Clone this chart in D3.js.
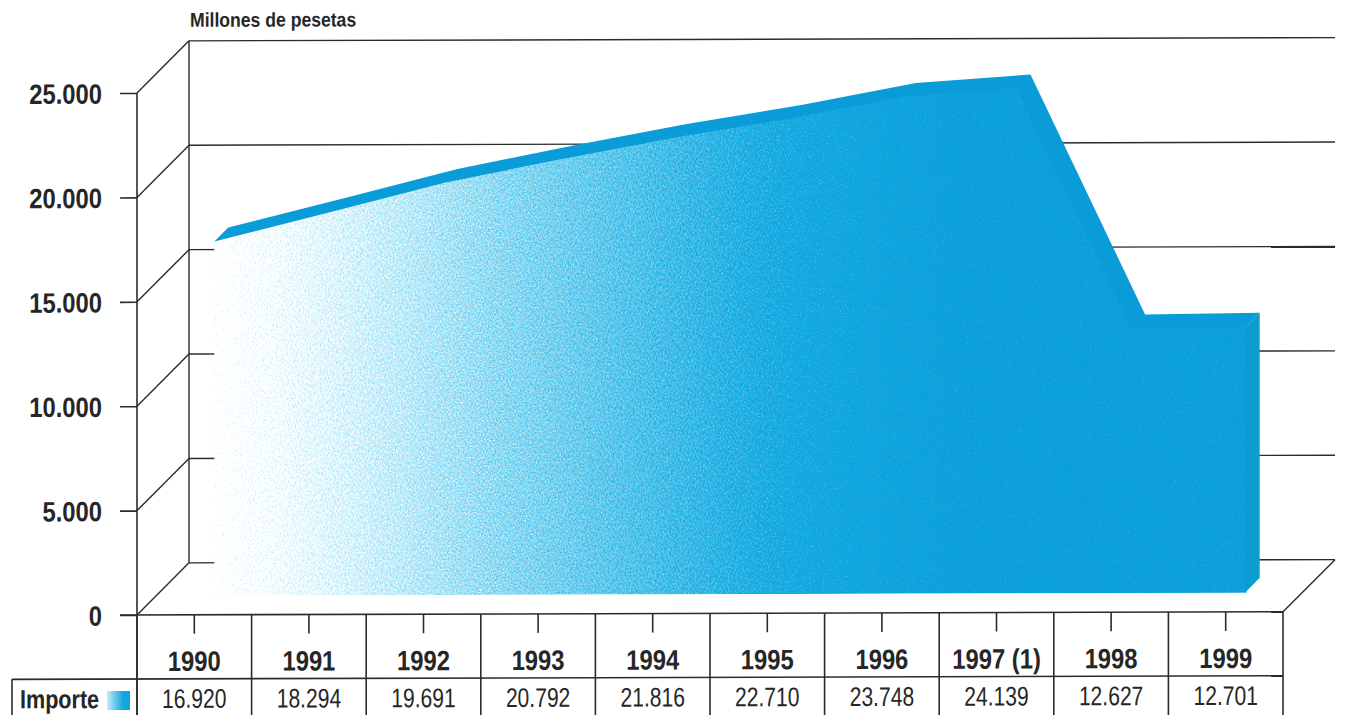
<!DOCTYPE html>
<html><head><meta charset="utf-8">
<script src="https://cdnjs.cloudflare.com/ajax/libs/d3/7.8.5/d3.min.js"></script>
<style>html,body{margin:0;padding:0;background:#fff;overflow:hidden}svg{display:block}
text{font-family:"Liberation Sans",Arial,sans-serif;fill:#262626}</style></head>
<body><svg id="c" width="1345" height="715"></svg>
<script>
const years=["1990","1991","1992","1993","1994","1995","1996","1997 (1)","1998","1999"];
const importe=[16920,18294,19691,20792,21816,22710,23748,24139,12627,12701];
const yTicks=[0,5000,10000,15000,20000,25000];
const unitLabel="Millones de pesetas";
const rowLabel="Importe";

const ink="#2b2b2b", solid="#0b9fdb";
const svg=d3.select("#c");
const fmt=d3.formatLocale({decimal:",",thousands:".",grouping:[3],currency:["",""]}).format(",d");
const x=d3.scaleBand().domain(years).range([137,1283]);
const y=d3.scaleLinear().domain([0,25000]).range([615,93]);
const wall=52, fd=20;
const cx=d=>x(d)+x.bandwidth()/2;
const g=svg.append("g").attr("transform","matrix(1,-0.0028,0,1,0,0.38)");

const defs=svg.append("defs");
const hue=defs.append("linearGradient").attr("id","hue").attr("gradientUnits","userSpaceOnUse")
  .attr("x1",214).attr("x2",1000).attr("y1",0).attr("y2",0);
[[0,"#30c6ee"],[0.5,"#18b0e4"],[1,solid]].forEach(s=>hue.append("stop").attr("offset",s[0]).attr("stop-color",s[1]));
const dens=defs.append("linearGradient").attr("id","dens").attr("gradientUnits","userSpaceOnUse")
  .attr("x1",214).attr("x2",1000).attr("y1",0).attr("y2",0);
[[0,"#080808"],[0.06,"#1e1e1e"],[0.11,"#2e2e2e"],[0.24,"#585858"],[0.36,"#808080"],[0.49,"#a4a4a4"],[0.62,"#c8c8c8"],[0.75,"#eeeeee"],[0.85,"#fff"],[1,"#fff"]]
 .forEach(s=>dens.append("stop").attr("offset",s[0]).attr("stop-color",s[1]));
const grain=defs.append("filter").attr("id","grain").attr("x",-0.02).attr("y",-0.02).attr("width",1.04).attr("height",1.04)
  .attr("color-interpolation-filters","sRGB");
grain.append("feTurbulence").attr("type","fractalNoise").attr("baseFrequency",0.6).attr("numOctaves",2).attr("seed",7).attr("result","n");
grain.append("feColorMatrix").attr("in","n").attr("type","matrix")
  .attr("values","1 0 0 0 0  1 0 0 0 0  1 0 0 0 0  0 0 0 0 1").attr("result","ng");
grain.append("feComposite").attr("in","SourceGraphic").attr("in2","ng").attr("operator","arithmetic")
  .attr("k1",0).attr("k2",1.3).attr("k3",1).attr("k4",-0.65).attr("result","r");
grain.append("feComposite").attr("in","r").attr("in2","SourceAlpha").attr("operator","in");

const grid=g.append("g").attr("stroke",ink).attr("stroke-width",1.4).attr("fill","none");
grid.selectAll("line.h").data(yTicks).join(e=>e.append("line").attr("class","h"))
  .attr("x1",137+wall).attr("x2",1283+wall).attr("y1",d=>y(d)-wall).attr("y2",d=>y(d)-wall);
grid.selectAll("line.d").data(yTicks).join(e=>e.append("line").attr("class","d"))
  .attr("x1",137).attr("x2",137+wall).attr("y1",d=>y(d)).attr("y2",d=>y(d)-wall);
grid.append("line").attr("x1",137+wall).attr("x2",137+wall).attr("y1",y(25000)-wall).attr("y2",y(0)-wall);
grid.append("line").attr("x1",1283).attr("x2",1283+wall).attr("y1",y(0)).attr("y2",y(0)-wall);

// 3D area
const base=595, topY=d3.scaleLinear().domain([0,25000]).range([595,595-522]);
const fx=d=>cx(d)+fd;
const shift=14;
const area=d3.area().x(d=>fx(d)).y0(base).y1(d=>topY(importe[years.indexOf(d)]));
const pathOf=d3.line();
const front=years.map((d,i)=>[fx(d),topY(importe[i])]), back=front.map(p=>[p[0]+shift,p[1]-shift]);
g.append("path").attr("d",area(years)).attr("fill","#fff");
const mask=defs.append("mask").attr("id","stipple").attr("maskUnits","userSpaceOnUse")
  .attr("x",0).attr("y",0).attr("width",1345).attr("height",715);
mask.append("path").attr("d",area(years)).attr("fill","url(#dens)").attr("stroke","url(#dens)").attr("stroke-width",3).attr("filter","url(#grain)");
g.append("path").attr("d",area(years)).attr("fill","url(#hue)").attr("stroke","url(#hue)").attr("stroke-width",1.5).attr("mask","url(#stipple)");
g.append("path").attr("d",pathOf(front.concat(back.slice().reverse()))+"Z").attr("fill","#0a9cd8");
const last=front[front.length-1];
g.append("path").attr("d",pathOf([[last[0],base],[last[0]+shift,base-shift],[last[0]+shift,last[1]-shift],last])+"Z").attr("fill","#0c9cd0");

// front axis lines and table
const fr=g.append("g").attr("stroke",ink).attr("stroke-width",1.6);
fr.append("line").attr("x1",137).attr("x2",137).attr("y1",y(25000)).attr("y2",722);
fr.append("line").attr("x1",1283).attr("x2",1283).attr("y1",y(0)).attr("y2",722);
fr.selectAll("line.c").data(years).join(e=>e.append("line").attr("class","c")).attr("x1",d=>x(d)).attr("x2",d=>x(d)).attr("y1",y(0)).attr("y2",722);
fr.append("line").attr("x1",12).attr("x2",1283).attr("y1",679).attr("y2",679);
fr.append("line").attr("x1",12).attr("x2",12).attr("y1",679).attr("y2",722);

// y axis
const ya=g.append("g").attr("transform","translate(137,0)").call(d3.axisLeft(y).tickValues(yTicks).tickFormat(fmt).tickSize(17).tickPadding(18));
ya.select(".domain").remove();
ya.selectAll("line").attr("stroke",ink).attr("stroke-width",1.6);
ya.selectAll("text").attr("font-size",28).attr("font-weight","bold").attr("dy","0.36em")
  .attr("transform","scale(0.85,1)").attr("x",-35/0.85).style("fill","#262626");

// x axis
const xa=g.append("g").attr("transform",`translate(0,${y(0)})`).call(d3.axisBottom(x).tickSize(19).tickPadding(0));
xa.select(".domain").attr("stroke",ink).attr("stroke-width",1.6).attr("d","M120,0H1283");
xa.selectAll("line").attr("stroke",ink).attr("stroke-width",1.6);
xa.selectAll("text").remove();
const narrow=(sel,sx)=>sel.attr("transform",function(){const e=d3.select(this);return `translate(${e.attr("data-x")},${e.attr("data-y")}) scale(${sx},1)`;});
g.append("g").selectAll("text").data(years).join("text").attr("text-anchor","middle")
  .attr("data-x",d=>cx(d)).attr("data-y",671).attr("font-size",28).attr("font-weight","bold").text(d=>d).call(narrow,0.85);
g.append("g").selectAll("text").data(importe).join("text").attr("text-anchor","middle")
  .attr("data-x",(d,i)=>cx(years[i])).attr("data-y",708).attr("font-size",27).text(d=>fmt(d)).call(narrow,0.78);

// row label and swatch
g.append("text").attr("data-x",20).attr("data-y",708).attr("font-size",26).attr("font-weight","bold").text(rowLabel).call(narrow,0.83);
defs.append("linearGradient").attr("id","sw").call(s=>{s.append("stop").attr("offset",0).attr("stop-color","#c4ecf9");s.append("stop").attr("offset",0.7).attr("stop-color","#12a6de");});
g.append("rect").attr("x",107).attr("y",691).attr("width",23).attr("height",19).attr("fill","url(#sw)");

// unit label
g.append("text").attr("data-x",190).attr("data-y",27).attr("font-size",20).attr("font-weight","bold").text(unitLabel).call(narrow,0.88);
</script></body></html>
